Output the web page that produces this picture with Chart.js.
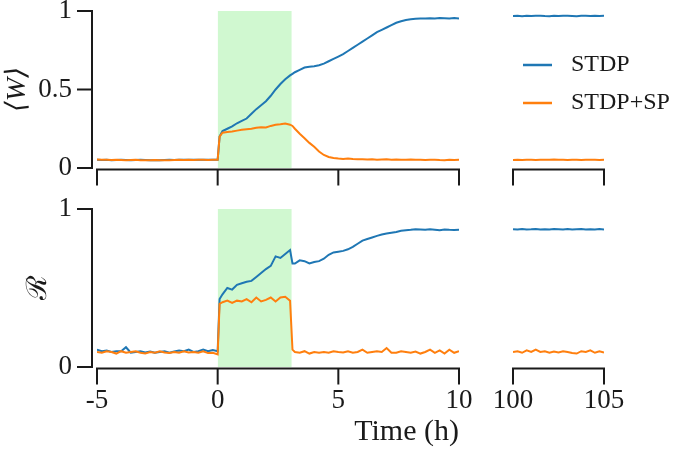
<!DOCTYPE html>
<html>
<head>
<meta charset="utf-8">
<script src="https://cdn.jsdelivr.net/npm/chart.js@4.4.1/dist/chart.umd.min.js"></script>
<style>
html,body{margin:0;padding:0;background:#fff;}
#wrap{position:relative;width:685px;height:452px;overflow:hidden;}
#wrap canvas{position:absolute;left:0;top:0;}
</style>
</head>
<body>
<div id="wrap">
<canvas id="tl" width="685" height="452"></canvas>
<canvas id="tr" width="685" height="452"></canvas>
<canvas id="bl" width="685" height="452"></canvas>
<canvas id="br" width="685" height="452"></canvas>
</div>
<script>
// ---------- data ----------
const seriesNames = ['STDP', 'STDP+SP'];

const timeLeft = [-5,-4.8,-4.6,-4.4,-4.2,-4,-3.8,-3.6,-3.4,-3.2,-3,-2.8,-2.6,-2.4,-2.2,-2,-1.8,-1.6,-1.4,-1.2,-1,-0.8,-0.6,-0.4,-0.2,0,
  0.08,
  0.2,0.4,0.6,0.8,1,1.2,1.4,1.6,1.8,2,2.2,2.4,2.6,2.8,3,
  3.1,
  3.2,3.4,3.6,3.8,4,4.2,4.4,4.6,4.8,5,5.2,5.4,5.6,5.8,6,6.2,6.4,6.6,6.8,7,7.2,7.4,7.6,7.8,8,8.2,8.4,8.6,8.8,9,9.2,9.4,9.6,9.8,10];

const timeRight = [100,100.25,100.5,100.75,101,101.25,101.5,101.75,102,102.25,102.5,102.75,103,103.25,103.5,103.75,104,104.25,104.5,104.75,105];

// mean weight <W>
const wStdpLeft = [0.052,0.051,0.052,0.050,0.051,0.052,0.051,0.050,0.051,0.052,0.051,0.050,0.049,0.050,0.051,0.052,0.051,0.052,0.053,0.052,0.052,0.053,0.052,0.053,0.052,0.053,
  0.200,
  0.235,0.250,0.265,0.285,0.300,0.315,0.345,0.375,0.400,0.425,0.460,0.500,0.535,0.565,0.590,
  0.600,
  0.610,0.625,0.640,0.645,0.648,0.655,0.665,0.680,0.695,0.710,0.725,0.745,0.765,0.785,0.805,0.825,0.845,0.865,0.880,0.895,0.910,0.925,0.935,0.942,0.947,0.950,0.952,0.953,0.954,0.953,0.955,0.954,0.953,0.955,0.952];

const wSpLeft = [0.054,0.053,0.052,0.051,0.052,0.051,0.050,0.051,0.052,0.050,0.049,0.050,0.051,0.050,0.049,0.050,0.051,0.052,0.051,0.052,0.051,0.052,0.052,0.051,0.052,0.052,
  0.200,
  0.225,0.230,0.232,0.238,0.243,0.247,0.250,0.256,0.260,0.258,0.268,0.275,0.278,0.283,0.276,
  0.268,
  0.250,0.218,0.190,0.160,0.135,0.105,0.083,0.070,0.064,0.060,0.058,0.060,0.057,0.056,0.055,0.054,0.055,0.053,0.054,0.055,0.053,0.054,0.052,0.053,0.054,0.052,0.053,0.051,0.052,0.053,0.051,0.050,0.052,0.051,0.053];

const wStdpRight = [0.968,0.969,0.967,0.970,0.968,0.969,0.970,0.968,0.967,0.969,0.968,0.970,0.969,0.968,0.967,0.969,0.970,0.968,0.969,0.968,0.969];
const wSpRight = [0.051,0.052,0.051,0.053,0.052,0.051,0.052,0.053,0.052,0.054,0.053,0.052,0.051,0.052,0.053,0.051,0.052,0.053,0.052,0.051,0.052];

// R
const rStdpLeft = [0.110,0.100,0.105,0.095,0.100,0.100,0.125,0.090,0.095,0.100,0.092,0.098,0.090,0.095,0.100,0.090,0.098,0.105,0.100,0.110,0.095,0.100,0.110,0.100,0.108,0.100,
  0.430,
  0.460,0.500,0.490,0.520,0.530,0.540,0.545,0.570,0.595,0.620,0.640,0.700,0.690,0.715,0.740,
  0.655,
  0.655,0.675,0.670,0.655,0.665,0.670,0.685,0.710,0.725,0.730,0.735,0.745,0.760,0.780,0.800,0.810,0.820,0.830,0.838,0.845,0.850,0.855,0.862,0.865,0.868,0.872,0.870,0.868,0.872,0.869,0.866,0.870,0.868,0.867,0.868];

const rSpLeft = [0.095,0.090,0.100,0.095,0.085,0.100,0.090,0.095,0.100,0.090,0.085,0.095,0.090,0.100,0.092,0.088,0.095,0.090,0.100,0.092,0.095,0.090,0.100,0.088,0.090,0.080,
  0.400,
  0.410,0.420,0.405,0.420,0.415,0.430,0.410,0.440,0.415,0.425,0.440,0.415,0.440,0.445,0.420,
  0.110,
  0.095,0.090,0.100,0.085,0.095,0.090,0.095,0.090,0.100,0.095,0.092,0.100,0.090,0.095,0.110,0.090,0.095,0.100,0.095,0.120,0.090,0.090,0.100,0.095,0.090,0.098,0.085,0.095,0.110,0.090,0.105,0.085,0.110,0.090,0.100];

const rStdpRight = [0.872,0.870,0.873,0.871,0.872,0.874,0.871,0.872,0.870,0.873,0.872,0.871,0.874,0.870,0.872,0.873,0.871,0.872,0.870,0.873,0.871];
const rSpRight = [0.095,0.100,0.090,0.105,0.095,0.110,0.095,0.100,0.090,0.098,0.092,0.100,0.095,0.088,0.085,0.100,0.095,0.105,0.090,0.100,0.092];

// stimulation window (h) and axis ticks
const stimWindow = [0, 3.07];
const xTicksLeft = [-5, 0, 5, 10];
const xTicksRight = [100, 105];
const yTicksW = [0, 0.5, 1];
const yTicksR = [0, 1];

// ---------- style ----------
const BLUE = '#1f77b4', ORANGE = '#ff7f0e', SHADE = 'rgba(144,238,144,0.42)', INK = '#1a1a1a';
Chart.defaults.font.family = "'Liberation Serif','DejaVu Serif',serif";
Chart.defaults.color = INK;

function pts(xs, ys) { return xs.map((x, i) => ({ x: x, y: ys[i] })); }

const spinePlugin = {
  id: 'spines',
  afterDraw(chart, args, o) {
    const ctx = chart.ctx, a = chart.chartArea;
    const xs = chart.scales.x, ys = chart.scales.y;
    ctx.save();
    ctx.strokeStyle = INK; ctx.lineWidth = 2; ctx.lineCap = 'butt';
    ctx.beginPath();
    const yb = a.bottom + 1.5;
    const x0 = xs.getPixelForValue(o.xTicks[0]);
    const x1 = xs.getPixelForValue(o.xTicks[o.xTicks.length - 1]);
    ctx.moveTo(x0 - 1, yb); ctx.lineTo(x1 + 1, yb);
    o.xTicks.forEach(v => { const p = xs.getPixelForValue(v); ctx.moveTo(p, yb); ctx.lineTo(p, yb + 16); });
    if (o.yTicks) {
      const xb = a.left - 5;
      const p0 = ys.getPixelForValue(o.yTicks[0]);
      const p1 = ys.getPixelForValue(o.yTicks[o.yTicks.length - 1]);
      ctx.moveTo(xb, p0 + 1); ctx.lineTo(xb, p1 - 1);
      o.yTicks.forEach(v => { const p = ys.getPixelForValue(v); ctx.moveTo(xb + 1, p); ctx.lineTo(xb - 15, p); });
    }
    ctx.stroke();
    ctx.restore();
  }
};

const sideLegendPlugin = {
  id: 'sideLegend',
  afterDraw(chart, args, o) {
    if (!o || !o.show) return;
    const ctx = chart.ctx;
    ctx.save();
    ctx.font = o.fontSize + "px 'Liberation Serif','DejaVu Serif',serif";
    ctx.textBaseline = 'middle'; ctx.textAlign = 'left'; ctx.fillStyle = INK;
    chart.data.datasets.filter(d => d.label).forEach((d, i) => {
      const y = o.y + i * o.rowGap;
      ctx.strokeStyle = d.borderColor; ctx.lineWidth = 2.5;
      ctx.beginPath(); ctx.moveTo(o.x, y); ctx.lineTo(o.x + o.lineLen, y); ctx.stroke();
      ctx.fillText(d.label, o.textX, y);
    });
    ctx.restore();
  }
};

function makeChart(id, cfg) {
  const a = cfg.area;
  const datasets = [
    { label: seriesNames[0], data: pts(cfg.t, cfg.blue), borderColor: BLUE, borderWidth: 2, pointRadius: 0, tension: 0, fill: false, order: 2 },
    { label: seriesNames[1], data: pts(cfg.t, cfg.orange), borderColor: ORANGE, borderWidth: 2, pointRadius: 0, tension: 0, fill: false, order: 1 }
  ];
  if (cfg.shade) {
    datasets.push({ label: '', data: [{ x: stimWindow[0], y: 1 }, { x: stimWindow[1], y: 1 }],
      fill: 'origin', backgroundColor: SHADE, borderColor: 'rgba(0,0,0,0)', borderWidth: 0, pointRadius: 0, order: 3 });
  }
  return new Chart(document.getElementById(id), {
    type: 'line',
    data: { datasets: datasets },
    options: {
      responsive: false,
      animation: false,
      events: [],
      layout: { padding: { left: cfg.yTicks ? 0 : a.left, top: a.top, right: 685 - a.right, bottom: 452 - a.bottom - cfg.xh } },
      scales: {
        x: {
          type: 'linear', min: cfg.xTicks[0], max: cfg.xTicks[cfg.xTicks.length - 1],
          afterBuildTicks: s => { s.ticks = cfg.xTicks.map(v => ({ value: v })); },
          afterFit: s => { s.height = cfg.xh; s.paddingLeft = 0; s.paddingRight = 0; },
          grid: { display: false, drawTicks: false, tickLength: 0 },
          border: { display: false },
          ticks: { display: !!cfg.xLabels, font: { size: 27 }, padding: 18, maxRotation: 0, autoSkip: false, color: INK,
            callback: v => String(v) },
          title: cfg.xTitle ? { display: true, text: cfg.xTitle, align: 'end', font: { size: 30 }, padding: { top: 0, bottom: 2 }, color: INK } : { display: false }
        },
        y: {
          type: 'linear', min: 0, max: 1, display: !!cfg.yTicks,
          afterBuildTicks: s => { s.ticks = (cfg.yTicks || [0, 1]).map(v => ({ value: v })); },
          afterFit: s => { s.width = cfg.yTicks ? a.left : 0; s.paddingTop = 0; s.paddingBottom = 0; },
          grid: { display: false, drawTicks: false, tickLength: 0 },
          border: { display: false },
          ticks: { font: { size: 27 }, padding: 25, color: INK, callback: v => String(v) },
          title: cfg.yTitle ? { display: true, text: cfg.yTitle, font: { size: 28, style: cfg.yTitleStyle || 'normal' }, padding: { top: cfg.yTitlePad, bottom: 0 }, color: INK } : { display: false }
        }
      },
      plugins: {
        legend: { display: false },
        tooltip: { enabled: false },
        spines: { xTicks: cfg.xTicks, yTicks: cfg.yTicks },
        sideLegend: cfg.legend || { show: false }
      }
    },
    plugins: [spinePlugin, sideLegendPlugin]
  });
}

makeChart('tl', { area: { left: 97, right: 459, top: 11, bottom: 168 }, xh: 20, t: timeLeft, blue: wStdpLeft, orange: wSpLeft,
  shade: true, xTicks: xTicksLeft, yTicks: yTicksW, xLabels: false, yTitle: '⟨W⟩', yTitleStyle: 'italic', yTitlePad: 1 });
makeChart('tr', { area: { left: 513, right: 604, top: 11, bottom: 168 }, xh: 20, t: timeRight, blue: wStdpRight, orange: wSpRight,
  shade: false, xTicks: xTicksRight, yTicks: null, xLabels: false,
  legend: { show: true, x: 523, lineLen: 29, textX: 571, y: 65, rowGap: 38, fontSize: 24 } });
makeChart('bl', { area: { left: 97, right: 459, top: 209, bottom: 367 }, xh: 85, t: timeLeft, blue: rStdpLeft, orange: rSpLeft,
  shade: true, xTicks: xTicksLeft, yTicks: yTicksR, xLabels: true, xTitle: 'Time (h)', yTitle: 'ℛ', yTitlePad: 22 });
makeChart('br', { area: { left: 513, right: 604, top: 209, bottom: 367 }, xh: 85, t: timeRight, blue: rStdpRight, orange: rSpRight,
  shade: false, xTicks: xTicksRight, yTicks: null, xLabels: true });
</script>
</body>
</html>
